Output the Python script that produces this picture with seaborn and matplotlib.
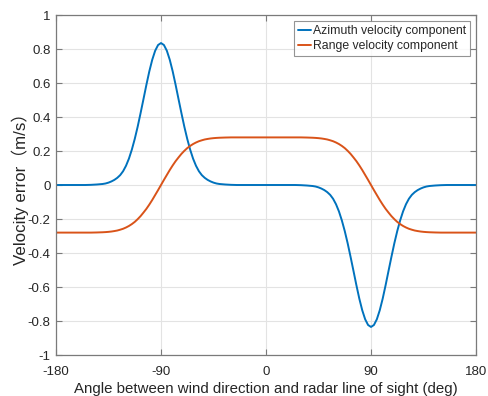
import matplotlib
matplotlib.use("Agg")
import matplotlib.pyplot as plt
import seaborn as sns
import pandas as pd

# Angle between wind direction and radar line of sight (deg)
angle = [
    -180, -175, -170, -165, -160, -155, -150, -145, -140,
    -137.5, -135, -132.5, -130, -127.5, -125, -122.5, -120, -117.5, -115,
    -112.5, -110, -107.5, -105, -102.5, -100, -97.5, -95, -92.5, -90,
    -87.5, -85, -82.5, -80, -77.5, -75, -72.5, -70, -67.5, -65,
    -62.5, -60, -57.5, -55, -52.5, -50, -47.5, -45, -42.5, -40,
    -35, -30, -25, -20, -15, -10, -5, 0, 5, 10, 15, 20, 25, 30, 35,
    40, 42.5, 45, 47.5, 50, 52.5, 55, 57.5, 60, 62.5,
    65, 67.5, 70, 72.5, 75, 77.5, 80, 82.5, 85, 87.5,
    90, 92.5, 95, 97.5, 100, 102.5, 105, 107.5, 110, 112.5,
    115, 117.5, 120, 122.5, 125, 127.5, 130, 132.5, 135, 137.5,
    140, 145, 150, 155, 160, 165, 170, 175, 180,
]

# Azimuth velocity component error (m/s)
azimuth_err = [
    0, 0, 0, 0, 0, 0, 0.001, 0.003, 0.006,
    0.009, 0.014, 0.021, 0.030, 0.042, 0.058, 0.081, 0.113, 0.155, 0.208,
    0.271, 0.343, 0.423, 0.506, 0.590, 0.669, 0.737, 0.790, 0.8235, 0.835,
    0.8235, 0.790, 0.737, 0.669, 0.590, 0.506, 0.423, 0.343, 0.271, 0.208,
    0.155, 0.113, 0.081, 0.058, 0.042, 0.030, 0.021, 0.014, 0.009, 0.006,
    0.003, 0.001, 0, 0, 0, 0, 0, 0, 0, 0, 0, 0, 0, -0.001, -0.003,
    -0.006, -0.009, -0.014, -0.021, -0.030, -0.042, -0.058, -0.081, -0.113, -0.155,
    -0.208, -0.271, -0.343, -0.423, -0.506, -0.590, -0.669, -0.737, -0.790, -0.8235,
    -0.835, -0.8235, -0.790, -0.737, -0.669, -0.590, -0.506, -0.423, -0.343, -0.271,
    -0.208, -0.155, -0.113, -0.081, -0.058, -0.042, -0.030, -0.021, -0.014, -0.009,
    -0.006, -0.003, -0.001, 0, 0, 0, 0, 0, 0,
]

# Range velocity component error (m/s)
range_err = [
    -0.28, -0.28, -0.28, -0.28, -0.28, -0.28, -0.28, -0.2792, -0.278,
    -0.277, -0.2756, -0.2737, -0.271, -0.2678, -0.263, -0.2575, -0.250, -0.241, -0.230,
    -0.217, -0.201, -0.183, -0.162, -0.140, -0.115, -0.088, -0.059, -0.030, 0,
    0.030, 0.059, 0.088, 0.115, 0.140, 0.162, 0.183, 0.201, 0.217, 0.230,
    0.241, 0.250, 0.2575, 0.263, 0.2678, 0.271, 0.2737, 0.2756, 0.277, 0.278,
    0.2792, 0.28, 0.28, 0.28, 0.28, 0.28, 0.28, 0.28, 0.28, 0.28, 0.28, 0.28, 0.28, 0.28, 0.2792,
    0.278, 0.277, 0.2756, 0.2737, 0.271, 0.2678, 0.263, 0.2575, 0.250, 0.241,
    0.230, 0.217, 0.201, 0.183, 0.162, 0.140, 0.115, 0.088, 0.059, 0.030,
    0, -0.030, -0.059, -0.088, -0.115, -0.140, -0.162, -0.183, -0.201, -0.217,
    -0.230, -0.241, -0.250, -0.2575, -0.263, -0.2678, -0.271, -0.2737, -0.2756, -0.277,
    -0.278, -0.2792, -0.28, -0.28, -0.28, -0.28, -0.28, -0.28, -0.28,
]

series_names = ["Azimuth velocity component", "Range velocity component"]
series_colors = ["#0072BD", "#D95319"]
x_ticks = [-180, -90, 0, 90, 180]
y_ticks = [-1, -0.8, -0.6, -0.4, -0.2, 0, 0.2, 0.4, 0.6, 0.8, 1]
y_tick_labels = ["-1", "-0.8", "-0.6", "-0.4", "-0.2", "0", "0.2", "0.4", "0.6", "0.8", "1"]

df = pd.concat([
    pd.DataFrame({"angle": angle, "error": azimuth_err, "component": series_names[0]}),
    pd.DataFrame({"angle": angle, "error": range_err, "component": series_names[1]}),
], ignore_index=True)

sns.set_theme(style="white")
plt.rcParams["font.family"] = ["Liberation Sans", "Noto Sans CJK SC", "DejaVu Sans"]
plt.rcParams["axes.unicode_minus"] = False

fig = plt.figure(figsize=(4.89, 3.96), dpi=100)
ax = fig.add_axes([56 / 489, 1 - 355 / 396, 420 / 489, 340 / 396])

sns.lineplot(data=df, x="angle", y="error", hue="component",
             palette=dict(zip(series_names, series_colors)),
             linewidth=1.4, ax=ax, sort=False, estimator=None)
for line in ax.get_lines():
    line.set_solid_joinstyle("round")

ax.set_xlim(-180, 180)
ax.set_ylim(-1, 1)
ax.set_xticks(x_ticks)
ax.set_xticklabels([str(t) for t in x_ticks])
ax.set_yticks(y_ticks)
ax.set_yticklabels(y_tick_labels)
ax.grid(True, color="#e3e3e3", linewidth=0.8)
ax.set_axisbelow(True)

for side in ["left", "right", "top", "bottom"]:
    ax.spines[side].set_color("#7a7a7a")
    ax.spines[side].set_linewidth(0.9)
ax.tick_params(axis="both", which="both", direction="in", length=4, width=0.8,
               color="#7a7a7a", labelsize=9.5, labelcolor="#262626",
               top=True, right=True, bottom=True, left=True)
ax.tick_params(axis="x", pad=8)
ax.tick_params(axis="y", pad=4)

ax.set_xlabel("Angle between wind direction and radar line of sight (deg)",
              fontsize=10.8, color="#262626", labelpad=3)
ax.set_ylabel("Velocity error（m/s）", fontsize=12.2, color="#262626", labelpad=-1)

leg = ax.legend(loc="upper right", bbox_to_anchor=(0.986, 0.982), fontsize=8.8,
                frameon=True, fancybox=False, handlelength=1.1, handletextpad=0.15,
                borderpad=0.3, labelspacing=0.25, borderaxespad=0.0)
leg.get_frame().set_edgecolor("#7a7a7a")
leg.get_frame().set_linewidth(0.8)
for t in leg.get_texts():
    t.set_color("#262626")

fig.savefig("out.png", dpi=100)
